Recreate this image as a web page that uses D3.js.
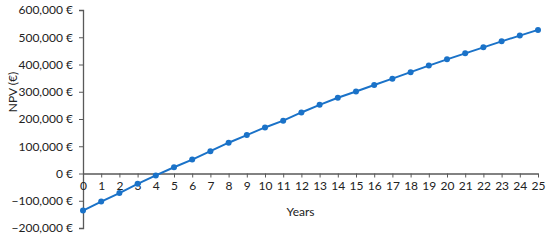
<!DOCTYPE html>
<html>
<head>
<meta charset="utf-8">
<script src="https://cdn.jsdelivr.net/npm/d3@7"></script>
<style>
  body { margin: 0; background: #fff; }
  text { font-family: Lato, "Open Sans", sans-serif; fill: #222; }
</style>
</head>
<body>
<div id="svgcontainer"></div>
<script>
var years = d3.range(0, 26);
var npv = [-136000, -103000, -72000, -38000, -7000, 23000, 51000, 82000, 113000, 141000,
           169000, 194000, 224000, 252000, 278000, 301000, 325000, 348000, 372000, 396000,
           419000, 441000, 463000, 485000, 506000, 527000];
var yTicks = [-200000, -100000, 0, 100000, 200000, 300000, 400000, 500000, 600000];

var margin = {top: 10, right: 12, bottom: 12, left: 83},
    width = 550 - margin.left - margin.right,
    height = 240 - margin.top - margin.bottom,
    svg = d3.select("div#svgcontainer")
            .append("svg")
            .attr("width", 550)
            .attr("height", 240),
    g = svg.append("g")
           .attr("transform", "translate(" + margin.left + "," + margin.top + ")");

var x = d3.scaleLinear().domain([0, 25]).range([0, width]);
var y = d3.scaleLinear().domain([-200000, 600000]).range([height, 0]);

var fmt = function(d){ return d3.format(",")(d) + " €"; };

// y axis
var yAxis = g.append("g")
    .call(d3.axisLeft(y).tickValues(yTicks).tickSize(4).tickPadding(6).tickFormat(fmt));
yAxis.select(".domain").attr("stroke", "#595959").attr("stroke-width", 1.3);
yAxis.selectAll(".tick line").attr("stroke", "#595959");
yAxis.selectAll("text").style("font-size", "12px").attr("fill", "#222");

// x axis at zero
var xAxis = g.append("g")
    .attr("transform", "translate(0," + y(0) + ")")
    .call(d3.axisBottom(x).tickValues(years).tickSize(4).tickSizeOuter(0).tickPadding(4));
xAxis.select(".domain").attr("stroke", "#595959").attr("stroke-width", 1.3);
xAxis.selectAll(".tick line").attr("stroke", "#595959");
xAxis.selectAll("text").style("font-size", "12px").attr("fill", "#222");

g.append("text")
    .attr("x", width / 2 - 10)
    .attr("y", y(0) + 42)
    .attr("text-anchor", "middle")
    .style("font-size", "12px")
    .text("Years");

g.append("text")
    .attr("transform", "rotate(-90)")
    .attr("x", -82)
    .attr("y", -66)
    .attr("text-anchor", "middle")
    .style("font-size", "12px")
    .text("NPV (€)");

var line = d3.line()
    .x(function(d, i){ return x(years[i]); })
    .y(function(d){ return y(d); });

g.append("path")
    .datum(npv)
    .attr("fill", "none")
    .attr("stroke", "#1a72c8")
    .attr("stroke-width", 2)
    .attr("d", line);

g.selectAll(".dot")
    .data(npv)
    .enter().append("circle")
    .attr("class", "dot")
    .attr("cx", function(d, i){ return x(years[i]); })
    .attr("cy", function(d){ return y(d); })
    .attr("r", 3)
    .attr("fill", "#1a72c8");
</script>
</body>
</html>
